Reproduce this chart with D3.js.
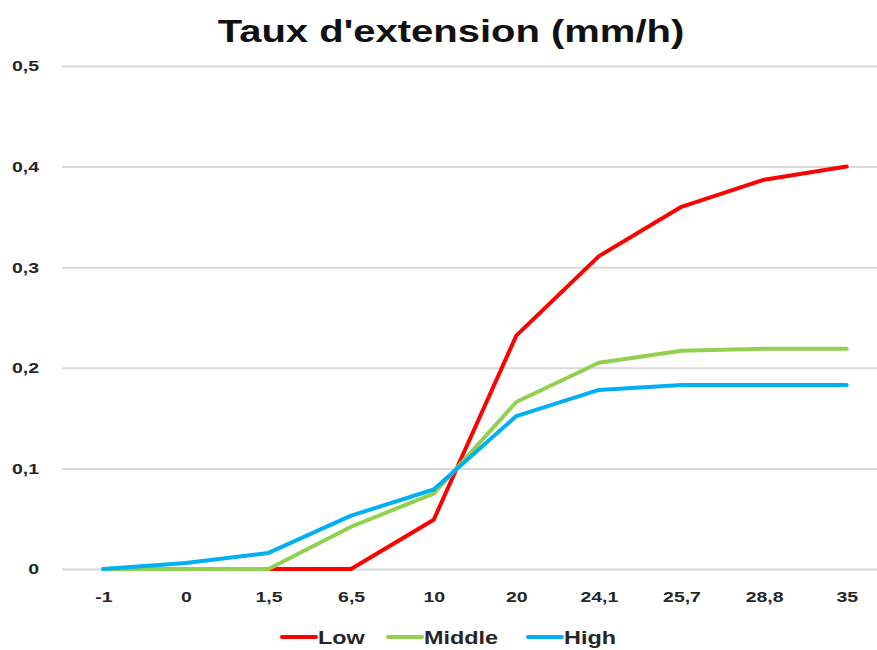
<!DOCTYPE html>
<html>
<head>
<meta charset="utf-8">
<script src="https://cdn.jsdelivr.net/npm/d3@7"></script>
<style>
  body { margin: 0; background: #fff; }
  text { font-family: "Liberation Sans", Arial, sans-serif; }
</style>
</head>
<body>
<div id="chart"></div>
<script>
// data
const categories = ["-1", "0", "1,5", "6,5", "10", "20", "24,1", "25,7", "28,8", "35"]
const low    = [0, 0, 0, 0, 0.049, 0.232, 0.311, 0.360, 0.387, 0.400]
const middle = [0, 0, 0, 0.042, 0.075, 0.166, 0.205, 0.217, 0.219, 0.219]
const high   = [0, 0.006, 0.016, 0.053, 0.079, 0.152, 0.178, 0.183, 0.183, 0.183]
const yTicks = [0, 0.1, 0.2, 0.3, 0.4, 0.5]

const series = [
    { name: "Low", values: low, color: "#ff0000" },
    { name: "Middle", values: middle, color: "#92d050" },
    { name: "High", values: high, color: "#00b0f0" }
]

const width = 877, height = 650
const margin = { top: 66, right: -11, bottom: 81, left: 62 }
const sx = 1.3 // text in the original is stretched horizontally

const svg = d3.select("#chart").append("svg")
    .attr("width", width)
    .attr("height", height)

// title
svg.append("text")
    .attr("transform", `translate(451,42) scale(1.25,1)`)
    .attr("text-anchor", "middle")
    .style("font-size", "32px")
    .style("font-weight", "bold")
    .attr("fill", "#111")
    .text("Taux d'extension (mm/h)")

const g = svg.append("g")
    .attr("transform", `translate(${margin.left},${margin.top})`)

const innerW = width - margin.left - margin.right
const innerH = height - margin.top - margin.bottom

const xScale = d3.scalePoint()
    .domain(categories)
    .range([0, innerW])
    .padding(0.5)

const yScale = d3.scaleLinear()
    .domain([0, 0.5])
    .range([innerH, 0])

const fmt = d => d === 0 ? "0" : d3.format(".1f")(d).replace(".", ",")

// grid lines
const yAx = d3.axisLeft(yScale)
    .tickValues(yTicks)
    .tickSize(-innerW)
    .tickFormat(fmt)

const yGroup = g.append("g").call(yAx)
yGroup.select(".domain").remove()
yGroup.selectAll(".tick line").attr("stroke", "#d9d9d9").attr("stroke-width", 2)
yGroup.selectAll(".tick text")
    .attr("x", -23 / sx)
    .attr("transform", `scale(${sx},1)`)
    .style("font-size", "15px")
    .style("font-weight", "bold")
    .attr("fill", "#262626")

const xAx = d3.axisBottom(xScale).tickSize(0).tickPadding(22)
const xGroup = g.append("g")
    .attr("transform", `translate(0,${innerH})`)
    .call(xAx)
xGroup.select(".domain").remove()
xGroup.selectAll(".tick text")
    .attr("transform", `scale(${sx},1)`)
    .style("font-size", "15px")
    .style("font-weight", "bold")
    .attr("fill", "#262626")

const lineGen = d3.line()
    .x((d, i) => xScale(categories[i]))
    .y(d => yScale(d))

g.selectAll(".series")
    .data(series)
    .join("path")
    .attr("class", "series")
    .attr("d", d => lineGen(d.values))
    .attr("fill", "none")
    .attr("stroke", d => d.color)
    .attr("stroke-width", 4)
    .attr("stroke-linejoin", "round")
    .attr("stroke-linecap", "round")

// legend
const legendX = [282, 388, 528]
const legend = svg.append("g").attr("transform", "translate(0,637)")
const items = legend.selectAll("g")
    .data(series)
    .join("g")
    .attr("transform", (d, i) => `translate(${legendX[i]},0)`)

items.append("line")
    .attr("x1", 0).attr("x2", 34)
    .attr("stroke", d => d.color)
    .attr("stroke-width", 4)
    .attr("stroke-linecap", "round")

items.append("text")
    .attr("transform", `translate(36,7) scale(${sx},1)`)
    .style("font-size", "18px")
    .style("font-weight", "bold")
    .attr("fill", "#262626")
    .text(d => d.name)
</script>
</body>
</html>
